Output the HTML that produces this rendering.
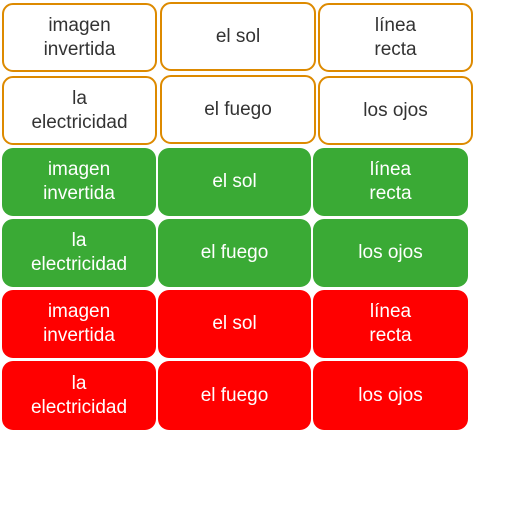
<!DOCTYPE html>
<html><head><style>
body{margin:0;width:512px;height:512px;background:#fff;position:relative;font-family:"Liberation Sans",sans-serif;}
.b{position:absolute;box-sizing:border-box;border-radius:11px;display:flex;align-items:center;justify-content:center;text-align:center;font-size:19px;line-height:24px;}
.o{border:2px solid #dd8a00;color:#333;background:#fff;}
.g{background:#3aaa35;color:#fff;}
.r{background:#ff0000;color:#fff;}
</style></head><body>
<div class="b o" style="left:2px;top:3px;width:155px;height:69px">imagen<br>invertida</div>
<div class="b o" style="left:160px;top:2px;width:156px;height:69px">el sol</div>
<div class="b o" style="left:318px;top:3px;width:155px;height:69px">línea<br>recta</div>
<div class="b o" style="left:2px;top:76px;width:155px;height:69px">la<br>electricidad</div>
<div class="b o" style="left:160px;top:75px;width:156px;height:69px">el fuego</div>
<div class="b o" style="left:318px;top:76px;width:155px;height:69px">los ojos</div>

<div class="b g" style="left:2px;top:148px;width:154px;height:68px">imagen<br>invertida</div>
<div class="b g" style="left:158px;top:148px;width:153px;height:68px">el sol</div>
<div class="b g" style="left:313px;top:148px;width:155px;height:68px">línea<br>recta</div>
<div class="b g" style="left:2px;top:219px;width:154px;height:68px">la<br>electricidad</div>
<div class="b g" style="left:158px;top:219px;width:153px;height:68px">el fuego</div>
<div class="b g" style="left:313px;top:219px;width:155px;height:68px">los ojos</div>

<div class="b r" style="left:2px;top:290px;width:154px;height:68px">imagen<br>invertida</div>
<div class="b r" style="left:158px;top:290px;width:153px;height:68px">el sol</div>
<div class="b r" style="left:313px;top:290px;width:155px;height:68px">línea<br>recta</div>
<div class="b r" style="left:2px;top:361px;width:154px;height:69px">la<br>electricidad</div>
<div class="b r" style="left:158px;top:361px;width:153px;height:69px">el fuego</div>
<div class="b r" style="left:313px;top:361px;width:155px;height:69px">los ojos</div>
</body></html>
